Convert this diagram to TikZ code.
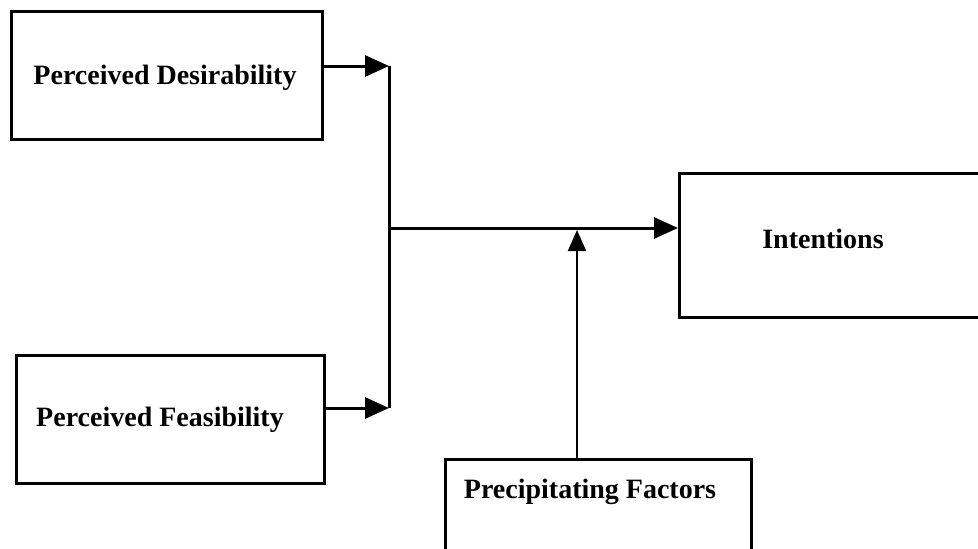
\documentclass[tikz,border=0pt]{standalone}
\usepackage{fontspec}
\setmainfont{Liberation Serif}
\usetikzlibrary{arrows.meta}
\begin{document}
\begin{tikzpicture}[x=1pt,y=-1pt,
  box/.style={draw=black, line width=3pt, rectangle, inner sep=0pt, anchor=north west},
  lbl/.style={font=\fontsize{28}{30}\selectfont\bfseries, inner sep=0pt},
  arr/.style={line width=3pt, -{Triangle[length=24pt,width=21pt]}},
  thin arr/.style={line width=2pt, -{Triangle[length=21pt,width=18pt]}}]
  \clip (0,0) rectangle (978,549);
  \fill[white] (0,0) rectangle (978,549);

  % boxes
  \node[box, minimum width=311pt, minimum height=128pt] (pd) at (10,10) {};
  \node[lbl] at (165,78) {Perceived Desirability};
  \node[box, minimum width=308pt, minimum height=128pt] (pf) at (15,354) {};
  \node[lbl] at (160,420) {Perceived Feasibility};
  \node[box, minimum width=320pt, minimum height=144pt] (int) at (678,172) {};
  \node[lbl] at (823,239) {Intentions};
  \node[box, minimum width=306pt, minimum height=110pt] (prec) at (444,458) {};
  \node[lbl] at (590,492) {Precipitating Factors};

  % junction points
  \coordinate (top) at (389,66);
  \coordinate (bot) at (389,408);
  \coordinate (hub) at (389,228);
  \coordinate (meet) at (577,230);

  % connectors
  \draw[arr] (top -| pd.east) -- (top);
  \draw[arr] (bot -| pf.east) -- (bot);
  \draw[line width=3pt] (top) -- (bot);
  \draw[arr] (hub) -- (hub -| int.west);
  \draw[thin arr] (meet |- prec.north) -- (meet);
\end{tikzpicture}
\end{document}
